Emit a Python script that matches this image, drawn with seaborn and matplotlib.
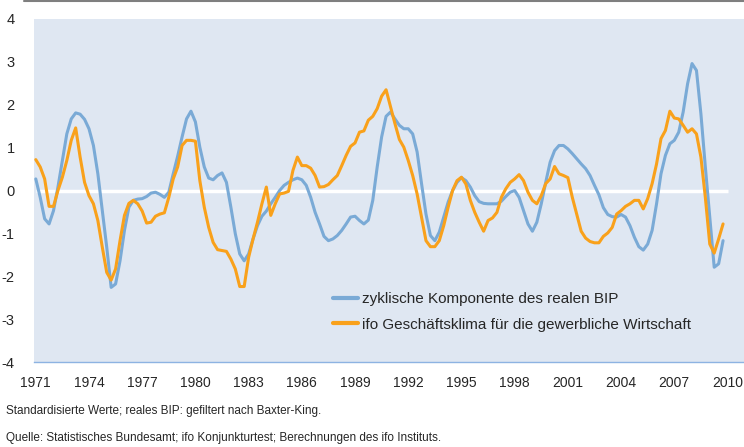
import matplotlib
matplotlib.use("Agg")
import matplotlib.pyplot as plt
import seaborn as sns
import numpy as np
import pandas as pd
from matplotlib.lines import Line2D
from matplotlib.ticker import MultipleLocator
from matplotlib import font_manager

# quarterly values, 1971Q1 .. 2009Q4
bip = [0.27, -0.16, -0.66, -0.78, -0.47, 0.08, 0.70, 1.32, 1.67, 1.81,
       1.78, 1.66, 1.44, 1.05, 0.39, -0.47, -1.32, -2.26, -2.18, -1.64,
       -0.93, -0.39, -0.23, -0.20, -0.19, -0.14, -0.06, -0.04, -0.09, -0.16,
       -0.04, 0.39, 0.80, 1.25, 1.67, 1.85, 1.60, 1.01, 0.55, 0.29,
       0.25, 0.35, 0.41, 0.19, -0.39, -1.01, -1.48, -1.64, -1.48, -1.13,
       -0.82, -0.60, -0.48, -0.31, -0.16, 0.0, 0.12, 0.19, 0.25, 0.29,
       0.25, 0.12, -0.16, -0.51, -0.78, -1.07, -1.17, -1.13, -1.05, -0.93,
       -0.78, -0.62, -0.60, -0.70, -0.78, -0.69, -0.23, 0.55, 1.25, 1.73,
       1.83, 1.67, 1.52, 1.44, 1.44, 1.32, 0.90, 0.16, -0.55, -1.05,
       -1.17, -0.97, -0.62, -0.27, 0.0, 0.19, 0.30, 0.23, 0.08, -0.12,
       -0.26, -0.30, -0.31, -0.31, -0.31, -0.25, -0.14, -0.04, 0.0, -0.16,
       -0.47, -0.78, -0.95, -0.74, -0.31, 0.19, 0.66, 0.93, 1.05, 1.05,
       0.97, 0.86, 0.74, 0.62, 0.51, 0.35, 0.12, -0.10, -0.40, -0.56,
       -0.61, -0.62, -0.56, -0.62, -0.82, -1.09, -1.31, -1.39, -1.25, -0.93,
       -0.31, 0.39, 0.82, 1.09, 1.17, 1.36, 1.83, 2.49, 2.96, 2.80,
       1.79, 0.55, -0.62, -1.79, -1.71, -1.17]

ifo = [0.72, 0.55, 0.27, -0.37, -0.37, 0.0, 0.31, 0.70, 1.17, 1.46,
       0.78, 0.19, -0.12, -0.31, -0.70, -1.32, -1.91, -2.09, -1.83, -1.17,
       -0.58, -0.30, -0.23, -0.31, -0.48, -0.76, -0.74, -0.60, -0.55, -0.52,
       -0.16, 0.27, 0.55, 1.05, 1.17, 1.17, 1.15, 0.23, -0.39, -0.86,
       -1.21, -1.38, -1.40, -1.42, -1.60, -1.83, -2.24, -2.24, -1.56, -1.13,
       -0.74, -0.31, 0.08, -0.58, -0.31, -0.08, -0.06, -0.02, 0.47, 0.78,
       0.58, 0.58, 0.52, 0.35, 0.08, 0.09, 0.14, 0.25, 0.35, 0.58,
       0.82, 1.03, 1.11, 1.36, 1.39, 1.64, 1.73, 1.91, 2.20, 2.35,
       1.95, 1.56, 1.19, 1.01, 0.70, 0.35, -0.08, -0.62, -1.17, -1.31,
       -1.31, -1.17, -0.82, -0.39, 0.0, 0.23, 0.31, 0.15, -0.23, -0.51,
       -0.74, -0.95, -0.70, -0.64, -0.51, -0.16, 0.04, 0.19, 0.27, 0.37,
       0.23, -0.04, -0.23, -0.31, -0.12, 0.16, 0.27, 0.56, 0.39, 0.35,
       0.30, -0.16, -0.55, -0.95, -1.11, -1.19, -1.22, -1.22, -1.07, -0.99,
       -0.86, -0.55, -0.47, -0.37, -0.31, -0.23, -0.23, -0.43, -0.19, 0.16,
       0.62, 1.21, 1.40, 1.85, 1.69, 1.67, 1.52, 1.36, 1.44, 1.32,
       0.78, -0.16, -1.25, -1.46, -1.13, -0.78]

years = 1971 + np.arange(len(bip)) / 4
year_labels = list(range(1971, 2011, 3))
label_bip = "zyklische Komponente des realen BIP"
label_ifo = "ifo Geschäftsklima für die gewerbliche Wirtschaft"
note = "Standardisierte Werte; reales BIP: gefiltert nach Baxter-King."
source = "Quelle: Statistisches Bundesamt; ifo Konjunkturtest; Berechnungen des ifo Instituts."

df = pd.DataFrame({
    "Jahr": np.concatenate([years, years]),
    "Wert": bip + ifo,
    "Reihe": [label_bip] * len(bip) + [label_ifo] * len(ifo),
})

sns.set_style("white", {"axes.facecolor": "#dfe7f2"})
plt.rcParams["font.family"] = ["Liberation Sans", "DejaVu Sans"]
text_col = "#262626"
axis_col = "#8db3e2"

# narrow font for the footnotes if available
installed = {f.name for f in font_manager.fontManager.ttflist}
if "Liberation Sans Narrow" in installed:
    note_font = dict(family="Liberation Sans Narrow", fontsize=10)
else:
    note_font = dict(family="Liberation Sans", fontsize=8.5)

fig = plt.figure(figsize=(7.44, 4.47), dpi=100)
ax = fig.add_axes([34 / 744, 1 - 362 / 447, 1 - 34 / 744, 343 / 447])

ax.hlines(0, years[0], years[-1] + 0.25, color="white", lw=2.5, zorder=1)
sns.lineplot(data=df, x="Jahr", y="Wert", hue="Reihe", ax=ax,
             palette=["#7aaad6", "#f9a11b"], lw=2.2, zorder=2)

ax.set_xlim(1970.9, 2010.93)
ax.set_ylim(-4, 4)
ax.set_yticks(range(-4, 5))
ax.set_yticklabels([str(v) for v in range(-4, 5)], fontsize=10.5, color=text_col)
ax.set_xticks(year_labels)
ax.set_xticklabels([str(y) for y in year_labels], fontsize=10, color=text_col)
ax.xaxis.set_minor_locator(MultipleLocator(0.75))
ax.tick_params(axis="x", which="both", direction="out", length=4,
               color=axis_col, width=1, pad=6)
ax.tick_params(axis="y", length=0, pad=14)
ax.set_xlabel("")
ax.set_ylabel("")
for s in ["top", "right", "left"]:
    ax.spines[s].set_visible(False)
ax.spines["bottom"].set_color(axis_col)
ax.spines["bottom"].set_linewidth(1)

handles, labels = ax.get_legend_handles_labels()
for h in handles:
    h.set_linewidth(3)
ax.legend(handles, labels, loc="upper left", frameon=False, fontsize=11,
          bbox_to_anchor=(333 / 744, 1 - 292 / 447), bbox_transform=fig.transFigure,
          borderpad=0, borderaxespad=0, handlelength=1.63, handletextpad=0.26,
          labelspacing=0.77, labelcolor=text_col)

fig.add_artist(Line2D([24 / 744, 1], [1 - 0.8 / 447, 1 - 0.8 / 447],
                      color="#7f7f7f", lw=1.5, transform=fig.transFigure))

fig.text(6 / 744, 1 - 411 / 447, note, color=text_col, va="center", **note_font)
fig.text(6 / 744, 1 - 438 / 447, source, color=text_col, va="center", **note_font)

fig.savefig("out.png", dpi=100)
